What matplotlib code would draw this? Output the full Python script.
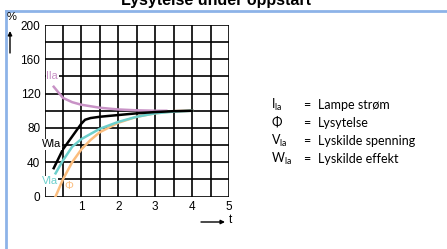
import numpy as np
import matplotlib
matplotlib.use("Agg")
import matplotlib.pyplot as plt
from matplotlib.lines import Line2D

plt.rcParams["mathtext.default"] = "regular"

# curves (t in s, values in %)
t_ila = [0.25, 0.5, 0.75, 1.0, 1.5, 2.0, 2.5, 3.0, 3.3]
ila   = [128, 115, 110, 107, 103.5, 101.5, 100.5, 100, 100]
t_wla = [0.25, 0.5, 0.75, 1.0, 1.1, 1.25, 1.5, 2.0, 2.5, 3.0, 3.5, 4.0]
wla   = [33, 55, 70, 85, 89.5, 91.5, 93, 95, 97, 98.5, 99.5, 100]
t_vla = [0.3, 0.5, 0.75, 1.0, 1.5, 2.0, 2.5, 3.0, 3.5, 4.0]
vla   = [27, 42, 58, 67, 79, 87, 93, 97, 99, 100]
t_phi = [0.3, 0.5, 0.75, 1.0, 1.25, 1.5, 2.0, 2.5, 3.0, 3.5, 4.0]
phi   = [0, 20, 40, 55, 66, 75, 86, 93, 97, 99.5, 100]

xticks = [1, 2, 3, 4, 5]
yticks = [0, 40, 80, 120, 160, 200]

legend_sym = ["I$_{la}$", "\u03a6", "V$_{la}$", "W$_{la}$"]
legend_txt = ["Lampe strøm", "Lysytelse", "Lyskilde spenning", "Lyskilde effekt"]

c_ila = "#c892c6"
c_vla = "#6ccfcc"
c_phi = "#fbbd7e"

W, H = 447, 249
fig = plt.figure(figsize=(W / 100, H / 100), dpi=100)
fig.patch.set_facecolor("white")

def px(x, y):
    return x / W, 1 - y / H

# title (cut off at top in the reference)
fig.text(*px(216, 5), "Lysytelse under oppstart", ha="center", va="baseline",
         fontsize=11.5, fontweight="bold", family="Liberation Sans")

# blue frame lines
fig.add_artist(Line2D([6 / W, 1.0], [1 - 11 / H, 1 - 11 / H], color="#8db3e8", lw=2))
fig.add_artist(Line2D([6 / W, 6 / W], [1 - 11 / H, 0], color="#8db3e8", lw=2))

ax = fig.add_axes([44.5 / W, 1 - 196.5 / H, (229 - 44.5) / W, (196.5 - 25) / H])
ax.set_xlim(0, 5)
ax.set_ylim(0, 200)
for x in np.arange(0, 5.01, 0.5):
    ax.axvline(x, color="black", lw=1.2, zorder=1)
for y in range(0, 201, 20):
    ax.axhline(y, color="black", lw=1.2, zorder=1)
for s in ax.spines.values():
    s.set_visible(False)
ax.set_xticks(xticks)
ax.set_yticks(yticks)
ax.tick_params(length=0, labelsize=8.5, pad=3)
for lab in ax.get_xticklabels() + ax.get_yticklabels():
    lab.set_family("Liberation Sans")

ax.plot(t_ila, ila, color=c_ila, lw=1.8, zorder=3)
ax.plot(t_phi, phi, color=c_phi, lw=1.8, zorder=3)
ax.plot(t_vla, vla, color=c_vla, lw=1.8, zorder=4)
ax.plot(t_wla, wla, color="black", lw=1.8, zorder=5)

bb = dict(facecolor="white", edgecolor="none", pad=0.3)
ax.text(0.05, 140, "Ila", color=c_ila, fontsize=8, ha="left", va="center",
        family="Liberation Sans", bbox=bb, zorder=6, clip_on=False)
ax.text(-0.07, 61, "Wla", color="black", fontsize=8, ha="left", va="center",
        family="Liberation Sans", bbox=bb, zorder=6, clip_on=False)
ax.text(-0.07, 18, "Vla", color=c_vla, fontsize=8, ha="left", va="center",
        family="Liberation Sans", bbox=bb, zorder=6, clip_on=False)
ax.text(0.55, 12, "\u03a6", color=c_phi, fontsize=8, ha="left", va="center",
        family="Liberation Sans", bbox=bb, zorder=6, clip_on=False)

# axis markers
fig.text(*px(12, 17), "%", ha="center", va="center", fontsize=8, family="Liberation Sans")
fig.add_artist(plt.Annotation("", xy=px(10, 31), xytext=px(10, 53), xycoords="figure fraction",
                              arrowprops=dict(arrowstyle="-|>", color="black", lw=1,
                                              mutation_scale=6, shrinkA=0, shrinkB=0)))
fig.add_artist(plt.Annotation("", xy=px(225, 222), xytext=px(201, 222), xycoords="figure fraction",
                              arrowprops=dict(arrowstyle="-|>", color="black", lw=1,
                                              mutation_scale=6, shrinkA=0, shrinkB=0)))
fig.text(*px(230, 220), "t", ha="center", va="center", fontsize=8.5, family="Liberation Sans")

# legend text block
fam = ["Lato", "DejaVu Sans"]
rows_y = [109, 127, 145, 163]
for sym, txt, y in zip(legend_sym, legend_txt, rows_y):
    fig.text(*px(271, y), sym, ha="left", va="baseline", fontsize=9, family=fam)
    fig.text(*px(303, y), "=", ha="left", va="baseline", fontsize=9, family=fam)
    fig.text(*px(318, y), txt, ha="left", va="baseline", fontsize=9, family=fam)

fig.savefig("out.png", dpi=100)
